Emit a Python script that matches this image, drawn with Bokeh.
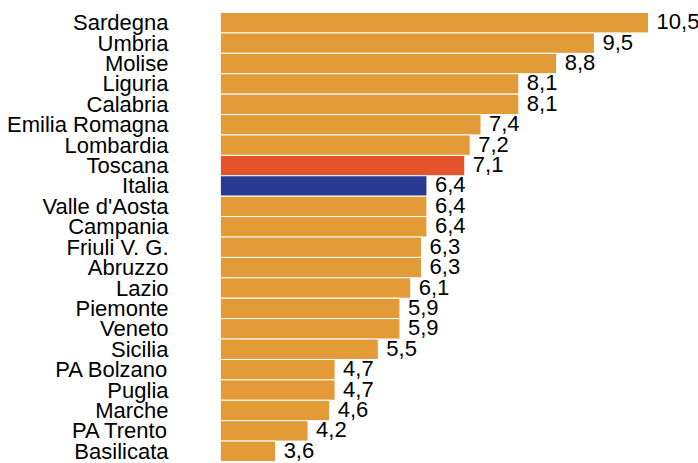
from bokeh.plotting import figure
from bokeh.models import ColumnDataSource, Range1d, FixedTicker
from bokeh.core.properties import value
from bokeh.embed import file_html
from bokeh.resources import INLINE

regions = ["Sardegna", "Umbria", "Molise", "Liguria", "Calabria", "Emilia Romagna",
           "Lombardia", "Toscana", "Italia", "Valle d'Aosta", "Campania", "Friuli V. G.",
           "Abruzzo", "Lazio", "Piemonte", "Veneto", "Sicilia", "PA Bolzano", "Puglia",
           "Marche", "PA Trento", "Basilicata"]
values = [10.5, 9.5, 8.8, 8.1, 8.1, 7.4, 7.2, 7.1, 6.4, 6.4, 6.4, 6.3, 6.3, 6.1,
          5.9, 5.9, 5.5, 4.7, 4.7, 4.6, 4.2, 3.6]

ORANGE = "#E39B38"
RED = "#E5532A"
BLUE = "#283A92"
colors = [RED if r == "Toscana" else BLUE if r == "Italia" else ORANGE for r in regions]
labels = [f"{v:.1f}".replace(".", ",") for v in values]
n = len(regions)
ypos = [n - i for i in range(n)]  # Sardegna on top

src = ColumnDataSource(dict(y=ypos, region=regions, value=values, color=colors, label=labels))

FONT = "Liberation Sans"
X0 = 2.58
PX = (461 - 12) / n  # pixels per category band

p = figure(width=698, height=463, output_backend="svg", toolbar_location=None,
           y_range=Range1d(0.5 - 2 / PX, n + 0.5 + 12 / PX),
           x_range=Range1d(X0, 11.424),
           min_border_left=220, min_border_right=0, min_border_top=0, min_border_bottom=0)

p.hbar(y="y", right="value", left=X0, height=1.0, color="color",
       line_color="white", line_width=1, source=src)
p.text(x="value", y="y", text="label", source=src, x_offset=8, y_offset=-1,
       text_baseline="middle", text_align="left", text_font=value(FONT),
       text_font_size="22px", text_color="black")

p.xaxis.visible = False
p.yaxis.ticker = FixedTicker(ticks=ypos)
p.yaxis.major_label_overrides = {y: r for y, r in zip(ypos, regions)}
p.yaxis.axis_line_color = None
p.yaxis.major_tick_line_color = None
p.yaxis.minor_tick_line_color = None
p.yaxis.major_tick_out = 0
p.yaxis.major_tick_in = 0
p.yaxis.major_label_standoff = 52
p.yaxis.major_label_text_font = FONT
p.yaxis.major_label_text_font_size = "22px"
p.yaxis.major_label_text_color = "black"
p.xgrid.visible = False
p.ygrid.visible = False
p.outline_line_color = None

open("out.html", "w").write(file_html(p, INLINE))
